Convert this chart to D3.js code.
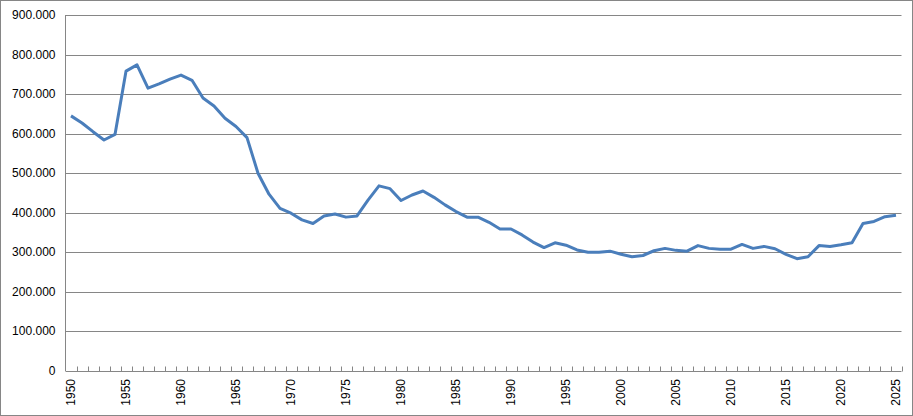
<!DOCTYPE html>
<html><head><meta charset="utf-8">
<script src="https://cdn.jsdelivr.net/npm/d3@7"></script>
<style>body{margin:0;background:#fff}svg{display:block}</style>
</head><body><svg id="c" width="913" height="416"></svg>
<script>
const years = d3.range(1950, 2026);
const values = [645,627,605,584,598,758,774,715,726,738,748,735,690,670,639,618,590,500,447,411,
399,382,373,392,397,389,392,432,468,461,431,445,455,439,420,403,389,389,376,359,
359,344,326,312,324,318,306,300,300,303,295,289,292,304,310,305,303,317,310,308,
308,320,310,315,309,295,284,289,317,315,319,324,373,378,390,394];
const yTicks = [0,100000,200000,300000,400000,500000,600000,700000,800000,900000];
const labelYears = years.filter(y => y % 5 === 0);

const svg = d3.select("#c");
svg.append("rect").attr("x",0.5).attr("y",0.5).attr("width",912).attr("height",415)
  .attr("fill","#fff").attr("stroke","#868686");
const L=65.5, R=901.5, T=15, B=371;
const x = d3.scaleBand().domain(years).range([L,R]);
const y = d3.scaleLinear().domain([0,900000]).range([B,T]);
const fmt = v => v===0 ? "0" : d3.format(",")(v).replace(/,/g,".");

svg.append("g").selectAll("line").data(yTicks.filter(d=>d>0)).join("line")
  .attr("x1",L).attr("x2",R).attr("y1",d=>Math.round(y(d))+0.5).attr("y2",d=>Math.round(y(d))+0.5)
  .attr("stroke","#868686");
svg.append("g").selectAll("text").data(yTicks).join("text")
  .attr("x",L-10).attr("y",d=>y(d)+4).attr("text-anchor","end")
  .attr("font-family","Liberation Sans, Arial, sans-serif").attr("font-size",12).text(fmt);

const ax = svg.append("g").attr("transform",`translate(0,${B+0.5})`);
ax.append("line").attr("x1",L).attr("x2",R).attr("stroke","#868686");
ax.selectAll("line.t").data(years.slice(1).concat([null])).join("line").attr("class","t")
  .attr("x1",(d,i)=>Math.round(x(years[i])+x.bandwidth())+0.5).attr("x2",(d,i)=>Math.round(x(years[i])+x.bandwidth())+0.5)
  .attr("y1",0).attr("y2",-5).attr("stroke","#868686");
svg.append("line").attr("x1",L).attr("x2",L).attr("y1",T).attr("y2",B).attr("stroke","#868686");

svg.append("g").selectAll("text").data(labelYears).join("text")
  .attr("transform",d=>`translate(${x(d)+x.bandwidth()/2+4},${B+8}) rotate(-90)`)
  .attr("text-anchor","end").attr("font-family","Liberation Sans, Arial, sans-serif").attr("font-size",12)
  .text(d=>d);

svg.append("path").datum(years.map((yr,i)=>[yr,values[i]*1000]))
  .attr("fill","none").attr("stroke","#4a7ebb").attr("stroke-width",3).attr("stroke-linejoin","round")
  .attr("d",d3.line().x(d=>x(d[0])+x.bandwidth()/2).y(d=>y(d[1])));
</script></body></html>
